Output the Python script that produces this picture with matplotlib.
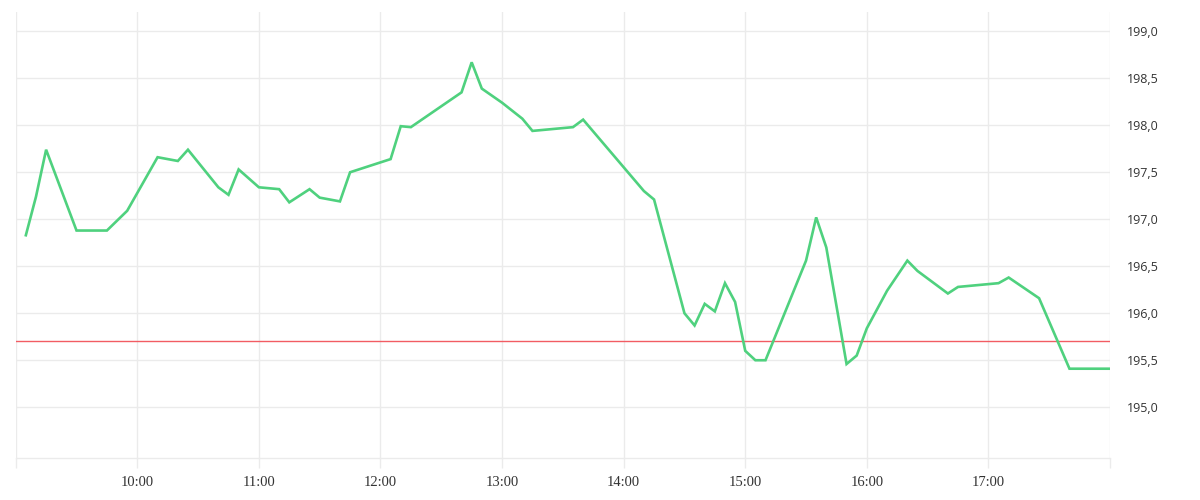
import matplotlib.pyplot as plt
from matplotlib.ticker import FuncFormatter

# ---------------------------------------------------------------------------
# Intraday price chart (one trading day, 9:00 - 18:00)
# ---------------------------------------------------------------------------

times = ["09:05", "09:10", "09:15", "09:30", "09:45", "09:55",
         "10:10", "10:20", "10:25", "10:40", "10:45", "10:50",
         "11:00", "11:10", "11:15", "11:25", "11:30", "11:40", "11:45",
         "12:05", "12:10", "12:15", "12:40", "12:45", "12:50",
         "13:00", "13:10", "13:15", "13:35", "13:40",
         "14:10", "14:15", "14:30", "14:35", "14:40", "14:45", "14:50", "14:55",
         "15:00", "15:05", "15:10", "15:30", "15:35", "15:40", "15:50", "15:55",
         "16:00", "16:10", "16:20", "16:25", "16:40", "16:45",
         "17:05", "17:10", "17:25", "17:40", "18:00"]

prices = [196.83, 197.24, 197.74, 196.88, 196.88, 197.09,
          197.66, 197.62, 197.74, 197.34, 197.26, 197.53,
          197.34, 197.32, 197.18, 197.32, 197.23, 197.19, 197.50,
          197.64, 197.99, 197.98, 198.35, 198.67, 198.39,
          198.24, 198.07, 197.94, 197.98, 198.06,
          197.30, 197.21, 196.00, 195.87, 196.10, 196.02, 196.32, 196.12,
          195.60, 195.50, 195.50, 196.56, 197.02, 196.70, 195.46, 195.55,
          195.84, 196.24, 196.56, 196.45, 196.21, 196.28,
          196.32, 196.38, 196.16, 195.41, 195.41]

# cours de reference (cloture veille)
prev_close = 195.71

x_ticks = [9, 10, 11, 12, 13, 14, 15, 16, 17, 18]
y_ticks = [195.0, 195.5, 196.0, 196.5, 197.0, 197.5, 198.0, 198.5, 199.0]


def to_hours(hhmm):
    h, m = hhmm.split(":")
    return int(h) + int(m) / 60


hours = [to_hours(t) for t in times]

grid_color = "#ebebeb"
text_color = "#333333"

fig = plt.figure(figsize=(12, 5), dpi=100)
ax = fig.add_axes([0.0131, 0.084, 0.925 - 0.0131, 0.976 - 0.084])

ax.plot(hours, prices, color="#4fd17e", linewidth=1.9, solid_joinstyle="miter", zorder=3)
ax.axhline(prev_close, color="#f25c63", linewidth=1.0, zorder=2)

ax.set_xlim(9, 18)
ax.set_ylim(194.46, 199.205)

ax.set_xticks(x_ticks)
ax.xaxis.set_major_formatter(FuncFormatter(
    lambda v, pos: "" if v in (9, 18) else f"{int(v)}:00"))
ax.set_yticks(y_ticks)
ax.yaxis.set_major_formatter(FuncFormatter(lambda v, pos: f"{v:.1f}".replace(".", ",")))
ax.yaxis.tick_right()

ax.grid(True, color=grid_color, linewidth=1.0, zorder=0)
ax.tick_params(axis="x", length=7.2, width=1.0, color=grid_color, pad=6,
               labelcolor=text_color)
ax.tick_params(axis="y", length=0, pad=12, labelcolor=text_color)

for lbl in ax.get_xticklabels():
    lbl.set_fontfamily("Liberation Serif")
    lbl.set_fontsize(10.5)
for lbl in ax.get_yticklabels():
    lbl.set_fontfamily("Open Sans")
    lbl.set_fontsize(9)

for side in ["top", "left", "right"]:
    ax.spines[side].set_visible(False)
ax.spines["bottom"].set_color(grid_color)
ax.spines["bottom"].set_linewidth(1.0)

plt.savefig("out.png", dpi=100)
